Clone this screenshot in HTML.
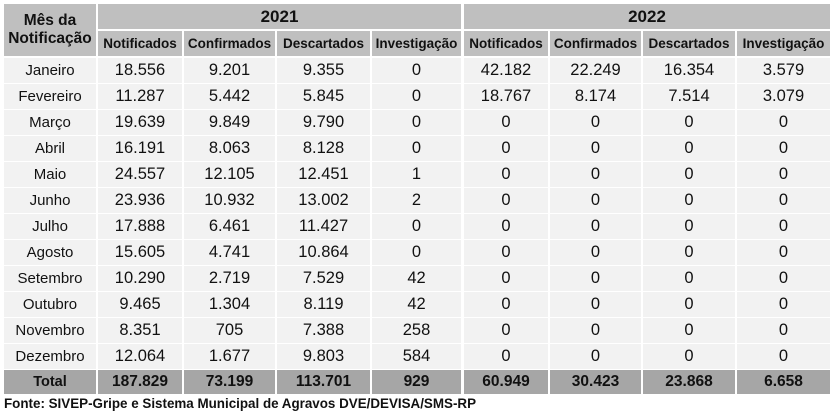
<!DOCTYPE html><html><head><style>
body{margin:0;width:833px;height:415px;background:#fff;position:relative;font-family:"Liberation Sans",Arial,sans-serif;overflow:hidden}
.c{position:absolute;display:flex;align-items:center;justify-content:center;font-size:14px;color:#111;box-sizing:border-box}
.h{background:#bfbfbf;font-weight:bold}
.d{background:#f2f2f2}
.t{background:#a6a6a6;font-weight:bold}
.f{position:absolute;left:4px;top:396px;font-size:13.4px;font-weight:bold;color:#111}
</style></head><body>
<div id="g"></div>
<div class="f">Fonte: SIVEP-Gripe e Sistema Municipal de Agravos DVE/DEVISA/SMS-RP</div>
<script>
var cols=[[4,96],[98,182],[184,275],[277,370],[372,461],[464,548],[550,641],[643,735],[737,830]];
var rows=[["Janeiro","18.556","9.201","9.355","0","42.182","22.249","16.354","3.579"],
["Fevereiro","11.287","5.442","5.845","0","18.767","8.174","7.514","3.079"],
["Março","19.639","9.849","9.790","0"],["Abril","16.191","8.063","8.128","0"],
["Maio","24.557","12.105","12.451","1"],["Junho","23.936","10.932","13.002","2"],
["Julho","17.888","6.461","11.427","0"],["Agosto","15.605","4.741","10.864","0"],
["Setembro","10.290","2.719","7.529","42"],["Outubro","9.465","1.304","8.119","42"],
["Novembro","8.351","705","7.388","258"],["Dezembro","12.064","1.677","9.803","584"]];
var h='';
function cell(x1,x2,y1,y2,cls,txt,st){h+='<div class="c '+cls+'" style="left:'+x1+'px;top:'+y1+'px;width:'+(x2-x1)+'px;height:'+(y2-y1)+'px;'+(st||'')+'">'+txt+'</div>';}
cell(4,96,4,56,'h','Mês da<br>Notificação','line-height:18px;text-align:center;font-size:15.5px');
cell(98,461,4,29,'h','2021','font-size:17px');
cell(464,830,4,29,'h','2022','font-size:17px');
var sub=["Notificados","Confirmados","Descartados","Investigação"];
for(var i=0;i<8;i++)cell(cols[i+1][0],cols[i+1][1],31,56,'h',sub[i%4],'font-size:13.5px');
for(var r=0;r<12;r++){var y=57+r*26;for(var i=0;i<9;i++){var v=rows[r][i];if(v===undefined)v='0';cell(cols[i][0],cols[i][1],y+1,y+26,'d',v,i==0?'font-size:15px':'font-size:16.5px');}}
var tot=["Total","187.829","73.199","113.701","929","60.949","30.423","23.868","6.658"];
for(var i=0;i<9;i++)cell(cols[i][0],cols[i][1],370,394,'t',tot[i],i==0?'font-size:14.5px':'font-size:15.5px');
document.getElementById('g').innerHTML=h;
</script></body></html>
